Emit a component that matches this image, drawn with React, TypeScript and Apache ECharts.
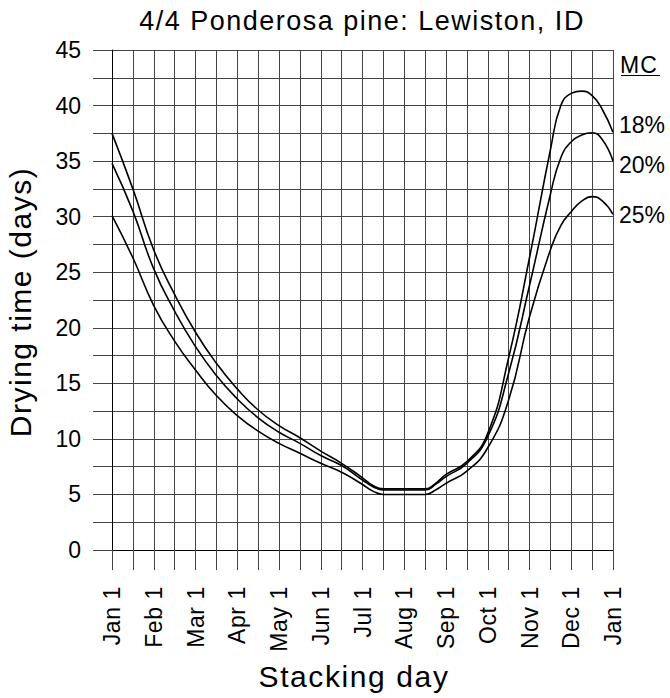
import React, { useEffect, useRef } from "react";
import * as echarts from "echarts";

const TITLE = "4/4 Ponderosa pine: Lewiston, ID";
const X_NAME = "Stacking day";
const Y_NAME = "Drying time (days)";
const LEGEND_TITLE = "MC";
const TICK_LABELS = [
  "Jan 1", "Feb 1", "Mar 1", "Apr 1", "May 1", "Jun 1", "Jul 1",
  "Aug 1", "Sep 1", "Oct 1", "Nov 1", "Dec 1", "Jan 1",
];
// stacking day, in months from Jan 1
const STACK_POS = [
  0, 0.5, 1, 1.5, 2, 2.5, 3, 3.5, 4, 4.5, 5, 5.5, 6, 6.25, 6.5, 7, 7.5, 7.75,
  8, 8.5, 9, 9.5, 10, 10.5, 10.75, 11, 11.25, 11.5, 11.75, 12,
];
const MC_LABELS = ["18%", "20%", "25%"];
const MC18 = [
  37.5, 32.5, 27.0, 23.0, 19.6, 16.8, 14.5, 12.6, 11.2, 10.1, 8.9, 7.8, 6.5,
  5.8, 5.5, 5.5, 5.5, 6.0, 6.8, 7.95, 10.5, 17.3, 26.3, 36.0, 40.0, 41.1,
  41.3, 40.9, 39.6, 37.6,
];
const MC20 = [
  34.8, 30.5, 25.3, 21.5, 18.3, 15.7, 13.6, 11.9, 10.6, 9.6, 8.5, 7.6, 6.3,
  5.7, 5.4, 5.4, 5.4, 5.9, 6.6, 7.8, 10.2, 15.9, 23.8, 32.0, 35.3, 36.75,
  37.35, 37.55, 36.9, 35.0,
];
const MC25 = [
  30.1, 26.3, 22.0, 18.8, 16.2, 13.9, 12.1, 10.7, 9.6, 8.7, 7.8, 7.0, 5.9,
  5.3, 5.0, 5.0, 5.0, 5.4, 6.0, 7.1, 9.2, 13.5, 21.0, 27.0, 29.2, 30.45,
  31.4, 31.8, 31.4, 30.2,
];

const FONT = "'Liberation Sans', Arial, Helvetica, sans-serif";
const GRID_COLOR = "#444";

export default function App() {
  const ref = useRef<HTMLDivElement>(null);

  useEffect(() => {
    if (!ref.current) return;
    const chart = echarts.init(ref.current, null, { renderer: "svg" });
    const series = [MC18, MC20, MC25];
    const labelOffsets = [
      [0, -7],
      [0, 3.5],
      [0, 0.5],
    ];
    const option: any = {
      animation: false,
      backgroundColor: "#fff",
      grid: {
        left: 112,
        top: 50,
        right: 57,
        bottom: 148,
        containLabel: false,
        outerBoundsMode: "none",
      },
      xAxis: {
        type: "value",
        min: 0,
        max: 12,
        interval: 0.5,
        axisLine: { show: true, lineStyle: { color: "#000", width: 1 } },
        axisTick: {
          show: true,
          length: 20,
          lineStyle: { color: GRID_COLOR, width: 1 },
        },
        splitLine: { show: true, lineStyle: { color: GRID_COLOR, width: 1 } },
        axisLabel: {
          rotate: 90,
          margin: 36,
          fontSize: 23,
          fontFamily: FONT,
          color: "#000",
          formatter: (v: number) =>
            Number.isInteger(v) ? TICK_LABELS[v] : "",
        },
      },
      yAxis: {
        type: "value",
        min: 0,
        max: 45,
        interval: 2.5,
        axisLine: { show: true, lineStyle: { color: "#000", width: 1 } },
        axisTick: {
          show: true,
          length: 19,
          lineStyle: { color: GRID_COLOR, width: 1 },
        },
        splitLine: { show: true, lineStyle: { color: GRID_COLOR, width: 1 } },
        axisLabel: {
          margin: 31,
          fontSize: 23,
          fontFamily: FONT,
          color: "#000",
          formatter: (v: number) => (v % 5 === 0 ? String(v) : ""),
        },
      },
      series: series.map((vals, i) => ({
        type: "line",
        name: MC_LABELS[i],
        data: STACK_POS.map((x, k) => [x, vals[k]]),
        smooth: 0.5,
        showSymbol: false,
        silent: true,
        lineStyle: { color: "#000", width: 1.6 },
        endLabel: {
          show: true,
          formatter: MC_LABELS[i],
          distance: 6,
          offset: labelOffsets[i],
          fontSize: 23,
          fontFamily: FONT,
          color: "#000",
        },
        emphasis: { disabled: true },
      })),
      graphic: [
        {
          type: "text",
          x: 362,
          y: 21,
          style: {
            text: TITLE,
            fontSize: 27,
            fontFamily: FONT,
            fill: "#000",
            align: "center",
            verticalAlign: "middle",
          },
        },
        {
          type: "text",
          x: 354,
          y: 676,
          style: {
            text: X_NAME,
            fontSize: 30,
            fontFamily: FONT,
            fill: "#000",
            align: "center",
            verticalAlign: "middle",
          },
        },
        {
          type: "text",
          x: 20,
          y: 302,
          rotation: Math.PI / 2,
          style: {
            text: Y_NAME,
            fontSize: 30,
            fontFamily: FONT,
            fill: "#000",
            align: "center",
            verticalAlign: "middle",
          },
        },
        {
          type: "text",
          x: 620,
          y: 65,
          style: {
            text: LEGEND_TITLE,
            fontSize: 23,
            fontFamily: FONT,
            fill: "#000",
            align: "left",
            verticalAlign: "middle",
          },
        },
        {
          type: "line",
          shape: { x1: 621, y1: 75.5, x2: 660, y2: 75.5 },
          style: { stroke: "#000", lineWidth: 1.2 },
        },
      ],
    };
    chart.setOption(option);

    const spaced: Record<string, string> = {
      [TITLE]: "1.5px",
      [X_NAME]: "1.6px",
      [Y_NAME]: "1.5px",
      [LEGEND_TITLE]: "1px",
    };
    ref.current.querySelectorAll("text").forEach((t) => {
      const s = (t.textContent || "").trim();
      if (spaced[s]) t.setAttribute("letter-spacing", spaced[s]);
      else if (TICK_LABELS.includes(s)) t.setAttribute("letter-spacing", "0.6px");
    });

    return () => chart.dispose();
  }, []);

  return (
    <div
      ref={ref}
      style={{
        position: "fixed",
        left: 0,
        top: 0,
        width: 670,
        height: 698,
        background: "#fff",
      }}
    />
  );
}
